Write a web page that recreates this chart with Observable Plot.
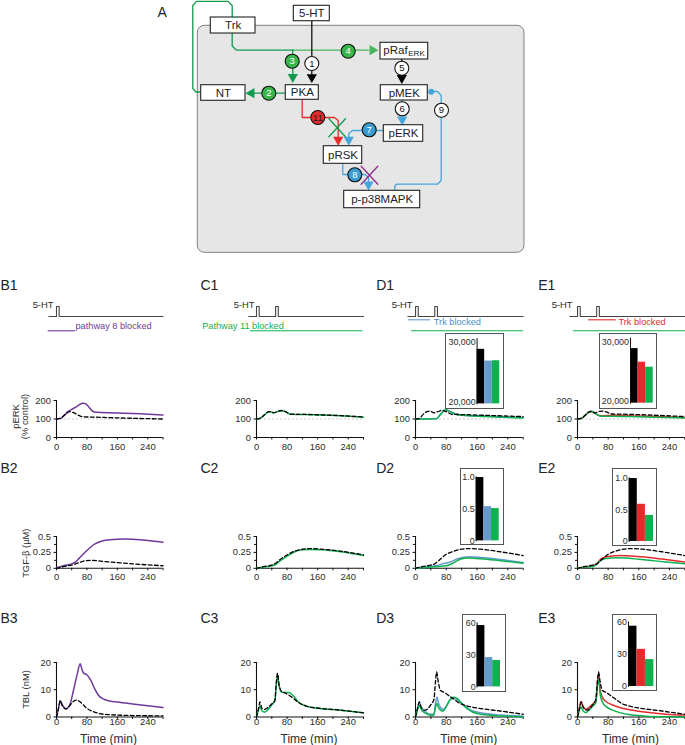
<!DOCTYPE html>
<html><head><meta charset="utf-8">
<script src="https://cdn.jsdelivr.net/npm/d3@7"></script>
<script src="https://cdn.jsdelivr.net/npm/@observablehq/plot@0.6"></script>
<style>
html,body{margin:0;padding:0;background:#fff}
#page{position:relative;width:685px;height:745px;overflow:hidden}
#page svg{position:absolute;overflow:visible;background:transparent}
</style></head><body><div id="page"></div>
<script>
// ---- series values: [time (min), value] ----
const b1Purple=[[0,100],[10,102],[20,118],[30,140],[40,152],[55,170],[68,185],[75,184],[85,165],[95,142],[105,136],[160,133],[220,128],[280,122]];
const b1Ctrl=[[0,100],[10,103],[20,120],[35,140],[45,134],[60,118],[70,112],[100,110],[160,106],[280,100]];
const b2Purple=[[0,.01],[20,.045],[40,.07],[50,.10],[60,.16],[80,.28],[100,.38],[120,.43],[140,.45],[180,.46],[220,.45],[250,.43],[280,.41]];
const b2Ctrl=[[0,0],[20,.03],[40,.05],[60,.09],[75,.12],[90,.125],[120,.11],[160,.09],[200,.07],[280,.04]];
const b3Purple=[[0,0],[5,3],[10,6],[15,4.5],[25,3],[35,4.5],[45,10],[55,16],[62,19.5],[68,17],[72,16],[80,15.5],[90,13.5],[100,10.5],[110,8],[125,6.5],[140,5.9],[160,5.5],[200,4.8],[280,3.5]];
const b3Ctrl=[[0,0],[5,3],[10,6],[15,4.2],[25,3],[35,4.2],[45,5.8],[52,6.2],[60,5.8],[70,4.5],[80,3.2],[100,1.8],[120,1.1],[160,.7],[280,.4]];
const c1Green=[[0,100],[10,105],[20,120],[30,137],[35,140],[45,133],[55,140],[65,145],[75,140],[90,125],[120,124],[160,122],[220,118],[280,110]];
const c1Ctrl=[[0,100],[10,104],[20,121],[30,138],[35,140],[45,134],[55,141],[65,146],[75,141],[90,126],[120,125],[160,123],[220,118],[280,111]];
const c2Green=[[0,0],[20,.02],[40,.04],[50,.06],[60,.11],[80,.19],[100,.26],[120,.29],[140,.295],[170,.29],[220,.26],[280,.20]];
const c2Ctrl=[[0,0],[20,.03],[40,.05],[50,.08],[60,.13],[80,.21],[100,.27],[120,.30],[140,.31],[170,.30],[220,.27],[280,.21]];
const c3Green=[[0,0],[5,2.5],[9,4],[14,2.3],[22,1.8],[30,2.7],[40,4.5],[48,6],[52,12],[55,15],[59,11.5],[65,9.2],[75,9],[85,9],[95,8],[110,5.5],[130,4],[160,3.2],[220,2.5],[280,1.6]];
const c3Ctrl=[[0,0],[5,3],[9,5.5],[14,3.2],[22,2.8],[30,3.5],[40,4.8],[48,6],[52,13],[55,16],[59,12],[65,9.5],[75,8.8],[85,8],[95,7],[110,5.3],[130,4],[160,3.3],[220,2.5],[280,1.5]];
const d1Blue=[[0,100],[10,100],[40,100],[55,102],[65,125],[78,150],[90,140],[105,127],[120,122],[180,116],[280,108]];
const d1Green=[[0,100],[10,100],[40,100],[55,102],[65,125],[78,150],[90,140],[105,125],[120,120],[180,113],[280,106]];
const d1Ctrl=[[0,100],[10,104],[20,125],[30,140],[38,143],[48,133],[58,140],[70,146],[80,140],[95,125],[120,124],[180,120],[280,113]];
const d2Blue=[[0,0],[20,.02],[40,.03],[60,.05],[70,.07],[90,.10],[110,.15],[125,.175],[140,.18],[170,.17],[220,.14],[280,.09]];
const d2Green=[[0,0],[20,.01],[40,.02],[60,.03],[80,.04],[90,.06],[100,.09],[120,.15],[135,.16],[170,.15],[220,.12],[280,.08]];
const d2Ctrl=[[0,0],[20,.03],[40,.05],[50,.07],[60,.12],[80,.22],[100,.27],[120,.30],[140,.31],[170,.30],[220,.26],[280,.20]];
const d3Blue=[[0,0],[5,3],[10,5.5],[15,3.5],[25,2],[40,1],[48,1],[52,5],[56,7.2],[60,5],[65,3.5],[72,2.8],[80,4],[90,6.3],[100,7],[110,6.2],[125,4.5],[140,2.8],[160,1.8],[220,.7],[280,.3]];
const d3Green=[[0,0],[5,2.5],[10,4.3],[15,2.7],[25,1.5],[40,.6],[47,.6],[52,3.5],[55,5],[60,3.4],[66,2.4],[72,2.2],[80,3.8],[90,6.3],[98,7.2],[108,6.8],[120,5],[135,3],[160,1.3],[220,.4],[280,.1]];
const d3Ctrl=[[0,0],[5,3],[10,5.5],[15,3.5],[25,2.5],[40,4.5],[48,6.5],[52,13],[55,16.5],[59,13],[65,9.7],[75,9],[85,8],[100,6.5],[115,5],[130,4.2],[160,3.3],[220,2.2],[280,1]];
const e1Red=[[0,100],[10,103],[20,120],[30,138],[38,140],[48,128],[58,118],[65,118],[90,120],[160,116],[280,108]];
const e1Green=[[0,100],[10,103],[20,120],[30,138],[38,140],[48,128],[58,118],[65,115],[90,115],[160,112],[280,105]];
const e1Ctrl=[[0,100],[10,103],[20,120],[30,138],[35,142],[45,133],[55,140],[65,143],[75,138],[90,127],[120,126],[180,122],[280,113]];
const e2Red=[[0,0],[20,.02],[40,.04],[50,.07],[60,.14],[70,.17],[85,.19],[110,.20],[140,.195],[180,.175],[230,.14],[280,.10]];
const e2Green=[[0,0],[20,.02],[40,.03],[50,.06],[60,.12],[70,.15],[85,.16],[110,.165],[140,.155],[180,.13],[230,.10],[280,.07]];
const e2Ctrl=d2Ctrl;
const e3Red=[[0,0],[5,3.5],[9,5.7],[14,4],[22,2.8],[30,3.5],[40,4.8],[48,6],[52,13],[55,15.5],[59,10],[65,7.2],[75,5.6],[90,4.5],[110,3.5],[140,2.6],[180,1.7],[230,1],[280,.7]];
const e3Green=[[0,0],[5,2.5],[9,3.8],[14,2.4],[22,1.6],[30,2.5],[40,4],[48,5.3],[52,11.5],[55,14],[59,8.5],[65,5.5],[75,3.8],[90,2.6],[110,1.6],[140,.8],[180,.3],[230,.1],[280,0]];
const e3Ctrl=d3Ctrl;
// inset bar values
const d1Bars=[28370,26570,26620], e1Bars=[28400,26300,25540];
const d2Bars=[.99,.535,.505], e2Bars=[.99,.585,.41];
const d3Bars=[57.5,27.5,24.8], e3Bars=[56,34.5,25];
// stimulus pulses: [time, on]
const onePulse=[[-20,0],[0,0],[0,1],[7,1],[7,0],[280,0]];
const twoPulses=[[-20,0],[0,0],[0,1],[7,1],[7,0],[50,0],[50,1],[57,1],[57,0],[280,0]];

// ---- styles and layout ----
const FONT='"Liberation Sans",Arial,sans-serif';
const PURPLE='#6f3a9a',GREEN='#0fb04f',BLUE='#6699cc',RED='#e22b2b',BLACK='#000';
const DK='#109a4b',LT='#45b75a',CB='#3b9dd2',LBL='#46a6dc',TXT='#2b2b2b';
const TICKFONT='9.4px',SMALL=9.4;
const page=document.getElementById('page');
function place(svg,left,top){svg.style.left=left+'px';svg.style.top=top+'px';page.appendChild(svg);}
const pts=a=>a.map(([t,v])=>({t,v}));
const rows=[
 {y:[437,400],domain:[0,200],ticks:[0,100,200],minor:[],fmt:d=>String(d),mb:19,pad:3},
 {y:[567.5,535.7],domain:[0,.5],ticks:[0,.25,.5],minor:[.125,.375],fmt:d=>String(d),mb:19,pad:3},
 {y:[716.5,662],domain:[0,20],ticks:[0,10,20],minor:[],fmt:d=>String(d),mb:14,pad:-1.5}];
const cols=[[55.5,162],[255.7,362.7],[415,522.7],[576.7,684]];
const panels=[
 [0,0,[[b1Purple,PURPLE],[b1Ctrl,BLACK,1]]],[1,0,[[c1Green,GREEN],[c1Ctrl,BLACK,1]]],
 [2,0,[[d1Blue,BLUE],[d1Green,GREEN],[d1Ctrl,BLACK,1]]],[3,0,[[e1Red,RED],[e1Green,GREEN],[e1Ctrl,BLACK,1]]],
 [0,1,[[b2Purple,PURPLE],[b2Ctrl,BLACK,1]]],[1,1,[[c2Green,GREEN],[c2Ctrl,BLACK,1]]],
 [2,1,[[d2Blue,BLUE],[d2Green,GREEN],[d2Ctrl,BLACK,1]]],[3,1,[[e2Red,RED],[e2Green,GREEN],[e2Ctrl,BLACK,1]]],
 [0,2,[[b3Purple,PURPLE],[b3Ctrl,BLACK,1]]],[1,2,[[c3Green,GREEN],[c3Ctrl,BLACK,1]]],
 [2,2,[[d3Blue,BLUE],[d3Green,GREEN],[d3Ctrl,BLACK,1]]],[3,2,[[e3Red,RED],[e3Green,GREEN],[e3Ctrl,BLACK,1]]]];
for(const [c,r,series] of panels){
 const R=rows[r],[x0,x1]=cols[c],ml=38,mr=1,mt=4;
 const marks=[];
 if(r===0)marks.push(Plot.ruleY([100],{x1:0,x2:280,stroke:'#bdbdbd',strokeWidth:.8,strokeDasharray:'2,2'}));
 marks.push(
  Plot.ruleY([0],{x1:0,x2:280,stroke:'#111',strokeWidth:1.1}),
  Plot.ruleX([0],{y1:R.domain[0],y2:R.domain[1],stroke:'#111',strokeWidth:1.1}),
  Plot.axisX({ticks:[0,80,160,240],tickSize:2.5,tickPadding:R.pad,label:null,color:TXT,stroke:'#111'}),
  Plot.axisX({ticks:[40,120,200,280],tickSize:2.5,tickFormat:()=>'',label:null,stroke:'#111'}),
  Plot.axisY({ticks:R.ticks,tickFormat:R.fmt,tickSize:2.5,tickPadding:3,label:null,color:TXT,stroke:'#111'}));
 if(R.minor.length)marks.push(Plot.axisY({ticks:R.minor,tickFormat:()=>'',tickSize:2,label:null,stroke:'#111'}));
 for(const [d,col,dash] of series)marks.push(Plot.line(pts(d),{x:'t',y:'v',stroke:col,strokeWidth:dash?1.3:1.5,strokeDasharray:dash?'3.8,2.4':undefined,curve:'monotone-x'}));
 const svg=Plot.plot({width:x1-x0+ml+mr,height:R.y[0]-R.y[1]+mt+R.mb,marginLeft:ml,marginRight:mr,marginTop:mt,marginBottom:R.mb,
  x:{domain:[0,280]},y:{domain:R.domain},style:{fontFamily:FONT,fontSize:TICKFONT,background:'transparent',overflow:'visible'},marks});
 place(svg,x0-ml,R.y[1]-mt);
}

// stimulus traces use each column's time scale
[[0,onePulse],[1,twoPulses],[2,twoPulses],[3,twoPulses]].forEach(([c,d])=>{
 const [x0,x1]=cols[c],ml=10,mr=1;
 const svg=Plot.plot({width:x1-x0+ml+mr,height:14,marginLeft:ml,marginRight:mr,marginTop:2,marginBottom:2,
  x:{domain:[0,280],axis:null},y:{domain:[0,1],axis:null},style:{background:'transparent',overflow:'visible'},
  marks:[Plot.line(pts(d),{x:'t',y:'v',stroke:'#444',strokeWidth:1.1,curve:'linear'})]});
 place(svg,x0-ml,304);
});

// insets
const insets=[
 {box:[445.7,503,334.3,407.7],x:[476.3,499],y:[403.7,338.5],domain:[20000,30000],bars:d1Bars,c:BLUE,labels:[[30000,'30,000',3.5],[20000,'20,000',-2]]},
 {box:[600,655.7,334.3,407.7],x:[630,652.7],y:[403,338],domain:[20000,30000],bars:e1Bars,c:RED,labels:[[30000,'30,000',3.5],[20000,'20,000',-2]]},
 {box:[461,503.3,469.3,544.3],x:[475.7,498.7],y:[540.7,476.7],domain:[0,1],bars:d2Bars,c:BLUE,labels:[[1,'1.0',0],[.5,'0.5',0],[0,'0',0]]},
 {box:[613.3,655.7,469.3,545.3],x:[629,653.3],y:[541.3,477.7],domain:[0,1],bars:e2Bars,c:RED,labels:[[1,'1.0',0],[.5,'0.5',0],[0,'0',0]]},
 {box:[462.7,505,615.3,691],x:[476.3,499.7],y:[686.7,622.7],domain:[0,60],bars:d3Bars,c:BLUE,labels:[[60,'60',0],[30,'30',0],[0,'0',0]]},
 {box:[613.3,655.7,615.3,690],x:[628.3,653.7],y:[686.3,621.7],domain:[0,60],bars:e3Bars,c:RED,labels:[[60,'60',0],[30,'30',0],[0,'0',0]]}];
for(const I of insets){
 const [bx0,bx1,by0,by1]=I.box,names=['ctrl','one','two'];
 const rowsB=I.bars.map((v,i)=>({n:names[i],v}));
 const marks=[Plot.barY(rowsB,{x:'n',y1:I.domain[0],y2:'v',fill:d=>d.n==='ctrl'?BLACK:d.n==='one'?I.c:GREEN}),
  Plot.ruleY(I.domain,{stroke:'none'})];
 const svg=Plot.plot({width:bx1-bx0,height:by1-by0,marginLeft:I.x[0]-bx0,marginRight:bx1-I.x[1],marginTop:I.y[1]-by0,marginBottom:by1-I.y[0],
  x:{domain:names,type:'band',padding:0,round:false,axis:null},y:{domain:I.domain,axis:null},
  style:{fontFamily:FONT,fontSize:'8.9px',background:'#fff',outline:'1.3px solid #555',outlineOffset:'-0.6px',overflow:'visible'},
  marks:[...marks,Plot.frame({anchor:'left',stroke:'#111'}),
   ...I.labels.map(([v,t,dy])=>Plot.text([v],{y:d=>d,text:()=>t,frameAnchor:'left',textAnchor:'end',dx:-1.5,dy,fill:TXT}))]});
 place(svg,bx0,by0);
}

// ---- diagram and labels, drawn on a page-sized scale ----
const nodes=[['Trk',210.3,255,17,33],['5-HT',293.3,329.3,5.3,20.7],['',380,427.7,42.3,59],['NT',200.7,245,84.7,100.3],['PKA',285.3,318.3,84.7,99.3],['pMEK',380.3,427.3,84.7,100],['pERK',383.3,422.7,124.7,141.3],['pRSK',323.3,361.7,145.7,163.3],['p-p38MAPK',343.7,419.7,190.3,207.7]];
const routes=[
 [DK,[[200.7,91.5],[195.5,91.5],[192.3,88],[192.3,5],[196,.9],[227.5,.9],[231.7,5],[231.7,45.5],[236,49.7],[292.3,49.7]]],
 [LT,[[292.3,49.7],[368,49.7]]],
 [DK,[[292.3,49.7],[292.3,75]]],
 ['#111',[[311.3,20.7],[311.3,74]]],
 [DK,[[285.3,92.7],[254,92.7]]],
 ['#111',[[401.3,59],[401.3,75]]],
 [LBL,[[401.7,100],[401.7,116]]],
 [LBL,[[383.3,130],[352,130],[348.3,133],[348.3,136]]],
 [RED,[[301.7,99.3],[301.7,117],[334,117],[337.7,120],[337.7,136]]],
 [LBL,[[342.3,163.3],[342.3,174],[364.5,174],[368,177],[368,181]]],
 [LBL,[[394.3,190.3],[394.3,185.5],[396,183.7],[437,183.7],[440.7,180],[440.7,95],[437,91],[430.7,91]]],
 [DK,[[328.4,118.3],[345,136.3]]],[DK,[[345,118.3],[328.4,136.3]]],
 ['#93278f',[[360.7,165.7],[377.3,183.7]]],['#93278f',[[377.3,165.7],[360.7,183.7]]]
];
const arrows=[[372,49.7,90,LT],[292.3,76.5,180,DK],[311.3,76.7,180,BLACK],[251,92.7,-90,DK],[401.3,77.5,180,BLACK],[401.7,119,180,LBL],[348.3,139.3,180,LBL],[337.7,139.3,180,RED],[368,184,180,LBL]];
const balls=[[430.7,91.3]];
const badges=[['1',311.3,63,'#fff','#111'],['2',268.3,92.7,'#3ab54a','#fff'],['3',291.7,60.7,'#3ab54a','#fff'],['4',347.7,50.7,'#3ab54a','#fff'],['5',401.3,67.7,'#fff','#111'],['6',401.7,108.3,'#fff','#111'],['7',368.7,129.3,CB,'#fff'],['8',354.3,174.3,CB,'#fff'],['9',441,109.7,'#fff','#111'],['11',317.3,117,RED,'#222']];
const panelLabels=[['A',157,12],['B1',0,285],['C1',200,285],['D1',375.7,285],['E1',537.7,285],['B2',0,467.7],['C2',200,467.7],['D2',375.7,467.7],['E2',537.7,467.7],['B3',0,618.3],['C3',200,618.3],['D3',375.7,618.3],['E3',537.7,618.3]];
const timeLabels=[[108,739],[308.5,739],[468.3,739],[630,739]];
const sideLabels=[['pERK',15,416],['(% control)',24,416],['TGF-β (µM)',25.7,552.7],['TBL (nM)',25.7,689]];
const hseLabels=[[53,304],[254,304],[412,304],[572,304]];
const blockLines=[[PURPLE,47.7,75,330.3],[GREEN,250,362.5,330.3],[BLUE,408,430,319.3],[GREEN,411,523,330.3],[RED,588,615.7,319.3],[GREEN,573,685,330.3]];
const blockText=[['pathway 8 blocked',75,325.7,PURPLE],['Pathway 11 blocked',201.7,325.7,GREEN],['Trk blocked',433.3,321.7,'#4a8fc9'],['Trk blocked',618,321.7,RED]];

const overlay=Plot.plot({width:685,height:745,margin:0,
 x:{domain:[0,685],range:[0,685],axis:null},y:{domain:[0,745],range:[0,745],axis:null},
 style:{fontFamily:FONT,background:'transparent',overflow:'visible'},
 marks:[
  Plot.rect([[197.3,524,25.3,252.3]],{x1:d=>d[0],x2:d=>d[1],y1:d=>d[2],y2:d=>d[3],fill:'#e6e6e6',stroke:'#808080',strokeWidth:1,rx:7}),
  ...routes.map(([c,p])=>Plot.line(p,{x:d=>d[0],y:d=>d[1],stroke:c,strokeWidth:1.3,curve:'linear'})),
  Plot.dot(arrows,{x:d=>d[0],y:d=>d[1],symbol:'triangle',r:3.8,rotate:d=>d[2],fill:d=>d[3],stroke:'none'}),
  Plot.rect(nodes,{x1:d=>d[1],x2:d=>d[2],y1:d=>d[3],y2:d=>d[4],fill:'#fff',stroke:'#222',strokeWidth:1.1}),
  Plot.text(nodes.filter(d=>d[0]),{x:d=>(d[1]+d[2])/2,y:d=>(d[3]+d[4])/2,text:d=>d[0],fontSize:11.5,fill:'#222'}),
  Plot.text(['pRaf'],{x:()=>395,y:()=>50,text:d=>d,fontSize:11.5,fill:'#222'}),
  Plot.text(['ERK'],{x:()=>416,y:()=>53,text:d=>d,fontSize:8,fill:'#222'}),
  Plot.dot(balls,{x:d=>d[0],y:d=>d[1],r:3,fill:LBL,stroke:'none'}),
  Plot.dot(badges,{x:d=>d[1],y:d=>d[2],r:7,fill:d=>d[3],stroke:'#111',strokeWidth:1.1}),
  Plot.text(badges,{x:d=>d[1],y:d=>d[2],text:d=>d[0],fill:d=>d[4],fontSize:9.5}),
  Plot.text(panelLabels,{x:d=>d[1],y:d=>d[2],text:d=>d[0],textAnchor:'start',fontSize:14,fill:'#222'}),
  Plot.text(timeLabels,{x:d=>d[0],y:d=>d[1],text:()=>'Time (min)',fontSize:12,fill:TXT}),
  Plot.text(sideLabels,{x:d=>d[1],y:d=>d[2],text:d=>d[0],rotate:-90,fontSize:SMALL,fill:TXT}),
  Plot.text(hseLabels,{x:d=>d[0],y:d=>d[1],text:()=>'5-HT',textAnchor:'end',fontSize:SMALL,fill:TXT}),
  ...blockLines.map(([c,a,b,y])=>Plot.ruleY([y],{x1:a,x2:b,stroke:c,strokeWidth:1.1})),
  Plot.text(blockText,{x:d=>d[1],y:d=>d[2],text:d=>d[0],fill:d=>d[3],textAnchor:'start',fontSize:9.2})
 ]});
place(overlay,0,0);
</script></body></html>
